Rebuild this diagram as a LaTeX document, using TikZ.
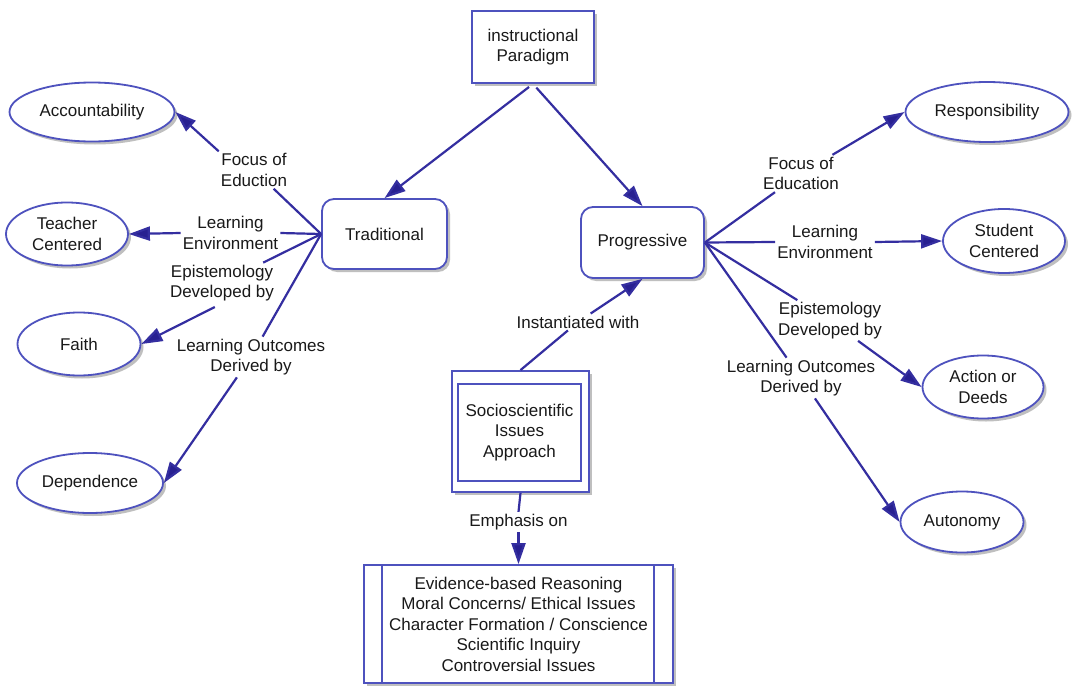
\documentclass[tikz,border=0pt]{standalone}
\usepackage{fontspec}
\setmainfont{Liberation Sans}
\usetikzlibrary{arrows.meta,shadows,shapes.geometric}
\definecolor{nodeblue}{RGB}{78,82,190}
\definecolor{lineblue}{RGB}{52,46,160}
\definecolor{tipblue}{RGB}{40,32,145}
\tikzset{
  txt/.style={font=\fontsize{17}{20.5}\selectfont, align=center, text=black!90},
  shad/.style={drop shadow={shadow xshift=3pt,shadow yshift=-3pt,fill=black!45,opacity=0.55}},
  boxnode/.style={txt, draw=nodeblue, line width=1.8pt, fill=white, shad, inner sep=2pt},
  roundbox/.style={boxnode, rounded corners=12pt},
  ell/.style={txt, ellipse, draw=nodeblue, line width=1.8pt, fill=white, shad, inner sep=0pt},
  lbl/.style={txt, inner sep=2pt},
  conn/.style={draw=lineblue, line width=2.2pt},
  arr/.style={conn, -{Triangle[length=21pt,width=14pt,fill=tipblue]}},
}
\begin{document}
\begin{tikzpicture}[x=1pt,y=-1pt]
\useasboundingbox[fill=white] (0,0) rectangle (1072,688);

% main nodes
\node[boxnode, minimum width=122pt, minimum height=72pt] (top) at (533,47) {instructional\\Paradigm};
\node[roundbox, minimum width=125pt, minimum height=70pt] (trad) at (384.5,234) {Traditional};
\node[roundbox, minimum width=123pt, minimum height=71pt] (prog) at (642.5,242.5) {Progressive};

% left ellipses
\node[ell, minimum width=165pt, minimum height=59pt] (acc) at (92,112) {Accountability};
\node[ell, minimum width=122pt, minimum height=63pt] (tc) at (67,234) {Teacher\\Centered};
\node[ell, minimum width=123pt, minimum height=63pt] (faith) at (79,344) {Faith};
\node[ell, minimum width=146pt, minimum height=60pt] (dep) at (90,483) {Dependence};

% right ellipses
\node[ell, minimum width=163pt, minimum height=60pt] (resp) at (987,112) {Responsibility};
\node[ell, minimum width=122pt, minimum height=64pt] (stu) at (1004,241) {Student\\Centered};
\node[ell, minimum width=121pt, minimum height=63pt] (act) at (983,387) {Action or\\Deeds};
\node[ell, minimum width=123pt, minimum height=61pt] (aut) at (962,522) {Autonomy};

% socioscientific double box
\node[boxnode, minimum width=137pt, minimum height=121pt] (ssiout) at (520.5,431.5) {};
\node[txt, draw=nodeblue, line width=1.8pt, minimum width=123pt, minimum height=97pt, inner sep=2pt] (ssi) at (519.5,432.5) {Socioscientific\\Issues\\Approach};

% bottom box
\node[boxnode, minimum width=309pt, minimum height=118pt] (bot) at (518.5,624) {Evidence-based Reasoning\\Moral Concerns/ Ethical Issues\\Character Formation / Conscience\\Scientific Inquiry\\Controversial Issues};
\draw[draw=nodeblue, line width=1.8pt] ([xshift=19pt]bot.north west) -- ([xshift=19pt]bot.south west);
\draw[draw=nodeblue, line width=1.8pt] ([xshift=-20pt]bot.north east) -- ([xshift=-20pt]bot.south east);

% labels
\node[lbl] (lFocT) at (254,170) {Focus of\\Eduction};
\node[lbl] (lLET) at (230.5,233) {Learning\\Environment};
\node[lbl] (lEpT) at (222,283) {Epistemology\\Developed by};
\node[lbl] (lLOT) at (251,357) {Learning Outcomes\\Derived by};
\node[lbl] (lFocP) at (801,173.5) {Focus of\\Education};
\node[lbl] (lLEP) at (825,242) {Learning\\Environment};
\node[lbl] (lEpP) at (830,320.5) {Epistemology\\Developed by};
\node[lbl] (lLOP) at (801,378) {Learning Outcomes\\Derived by};
\node[lbl] (lInst) at (578,322) {Instantiated with};
\node[lbl] (lEmph) at (518.5,522) {Emphasis on};

% top connectors
\draw[arr, shorten <=5pt] (top.south) -- (trad.north);
\draw[arr, shorten <=5pt] (top.south) -- (prog.north);

% traditional connectors
\draw[conn] (trad.west) -- (lFocT);
\draw[arr] (lFocT.north west) -- (acc.east);
\draw[conn] (trad.west) -- (lLET.east);
\draw[arr] (lLET.west) -- (tc.east);
\draw[conn] (trad.west) -- (lEpT);
\draw[arr, shorten <=8pt] (lEpT.south) -- (faith.east);
\draw[conn] (trad.west) -- (lLOT);
\draw[arr] (lLOT) -- (dep.east);

% progressive connectors
\draw[conn] (prog.east) -- (lFocP);
\draw[arr] (lFocP) -- (resp.west);
\draw[conn] (prog.east) -- (lLEP.west);
\draw[arr] (lLEP.east) -- (stu.west);
\draw[conn] (prog.east) -- (lEpP);
\draw[arr] (lEpP) -- (act.west);
\draw[conn] (prog.east) -- (lLOP);
\draw[arr] (lLOP) -- (aut.west);

% socioscientific connectors
\draw[conn] (ssiout.north) -- (lInst);
\draw[arr] (lInst) -- (prog.south);
\draw[conn] (ssiout.south) -- (lEmph.north);
\draw[arr] (lEmph.south) -- (bot.north);
\end{tikzpicture}
\end{document}
